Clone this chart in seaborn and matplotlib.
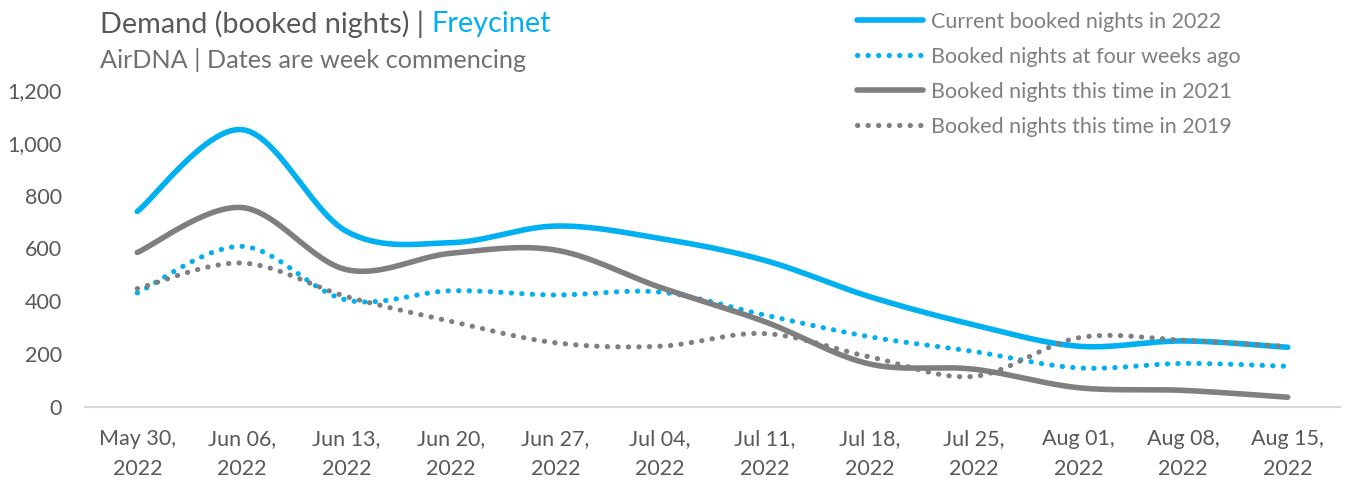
import numpy as np
import pandas as pd
import matplotlib
matplotlib.use("Agg")
import matplotlib.pyplot as plt
import seaborn as sns

# ------------------------------------------------------------------
# data (booked nights per week commencing)
# ------------------------------------------------------------------
weeks = ["May 30,\n2022", "Jun 06,\n2022", "Jun 13,\n2022", "Jun 20,\n2022",
         "Jun 27,\n2022", "Jul 04,\n2022", "Jul 11,\n2022", "Jul 18,\n2022",
         "Jul 25,\n2022", "Aug 01,\n2022", "Aug 08,\n2022", "Aug 15,\n2022"]
current_2022 = [740, 1050, 665, 622, 685, 638, 555, 418, 311, 230, 250, 226]
four_weeks_ago = [432, 608, 405, 440, 424, 435, 348, 266, 210, 148, 165, 154]
this_time_2021 = [585, 755, 520, 582, 594, 453, 323, 163, 143, 73, 63, 37]
this_time_2019 = [448, 545, 418, 324, 243, 230, 278, 190, 116, 262, 253, 229]

series_names = ["Current booked nights in 2022", "Booked nights at four weeks ago",
                "Booked nights this time in 2021", "Booked nights this time in 2019"]

BLUE = "#00B0F0"
GREY = "#7F7F7F"
TEXT = "#595959"


def smooth(y, n=30):
    # Excel style smoothed line: cubic bezier through every point (catmull-rom)
    x = np.arange(len(y), dtype=float)
    y = np.asarray(y, dtype=float)
    px = np.concatenate([[x[0]], x, [x[-1]]])
    py = np.concatenate([[y[0]], y, [y[-1]]])
    xs, ys = [], []
    t = np.linspace(0, 1, n, endpoint=False)
    for i in range(1, len(px) - 2):
        p0 = np.array([px[i], py[i]])
        p3 = np.array([px[i + 1], py[i + 1]])
        c1 = p0 + (p3 - np.array([px[i - 1], py[i - 1]])) / 6
        c2 = p3 - (np.array([px[i + 2], py[i + 2]]) - p0) / 6
        pts = ((1 - t) ** 3)[:, None] * p0 + (3 * (1 - t) ** 2 * t)[:, None] * c1 \
            + (3 * (1 - t) * t ** 2)[:, None] * c2 + (t ** 3)[:, None] * p3
        xs.extend(pts[:, 0])
        ys.extend(pts[:, 1])
    xs.append(x[-1])
    ys.append(y[-1])
    return np.array(xs), np.array(ys)


sns.set_style("white")
plt.rcParams["font.family"] = ["Lato", "DejaVu Sans"]

fig = plt.figure(figsize=(13.48, 4.83), dpi=100)
ax = fig.add_axes([85 / 1348, 76 / 483, 1255 / 1348, 317 / 483])

styles = [
    (current_2022, BLUE, "-", 4.0),
    (four_weeks_ago, BLUE, (0, (0.05, 2.0)), 3.7),
    (this_time_2021, GREY, "-", 4.0),
    (this_time_2019, GREY, (0, (0.05, 2.0)), 3.7),
]
for (vals, col, ls, lw), name in zip(styles, series_names):
    sx, sy = smooth(vals)
    df = pd.DataFrame({"x": sx, "y": sy})
    sns.lineplot(data=df, x="x", y="y", ax=ax, color=col, lw=lw, linestyle=ls,
                 label=name, sort=False, estimator=None,
                 solid_capstyle="round", dash_capstyle="round")

ax.set_xlim(-0.5, len(weeks) - 0.5)
ax.set_ylim(0, 1200)
ax.set_yticks(range(0, 1201, 200))
ax.set_yticklabels([f"{v:,}" for v in range(0, 1201, 200)])
ax.set_xticks(range(len(weeks)))
ax.set_xticklabels(weeks, linespacing=1.6)
ax.tick_params(axis="both", length=0, labelsize=15.5, colors=TEXT)
ax.tick_params(axis="x", pad=16)
ax.tick_params(axis="y", pad=16.5)
ax.set_xlabel("")
ax.set_ylabel("")
for s in ["top", "right", "left"]:
    ax.spines[s].set_visible(False)
ax.spines["bottom"].set_color("#D9D9D9")
ax.spines["bottom"].set_linewidth(1.5)

handles, labels = ax.get_legend_handles_labels()
ax.get_legend().remove()
leg = fig.legend(handles, labels, loc="upper left", bbox_to_anchor=(848 / 1348, 1 - 3 / 483),
                 frameon=False, fontsize=15.5, handlelength=3.1, handletextpad=0.35,
                 labelspacing=0.7, borderaxespad=0)
for t in leg.get_texts():
    t.set_color(GREY)

# title and subtitle
renderer = fig.canvas.get_renderer()
t1 = fig.text(100 / 1348, 1 - 24 / 483, "Demand (booked nights) | ", fontsize=20.8,
              color=TEXT, va="center", ha="left")
bb = t1.get_window_extent(renderer)
fig.text(bb.x1 / fig.bbox.width, 1 - 24 / 483, "Freycinet", fontsize=20.8,
         color=BLUE, va="center", ha="left")
fig.text(100 / 1348, 1 - 60 / 483, "AirDNA | Dates are week commencing", fontsize=18.2,
         color="#707070", va="center", ha="left")

fig.savefig("out.png", dpi=100)
